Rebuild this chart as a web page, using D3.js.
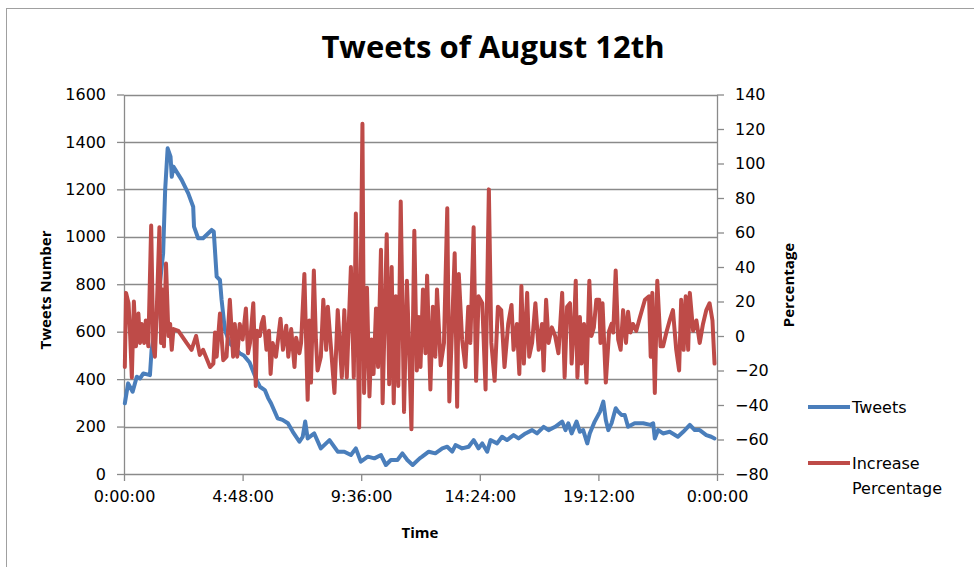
<!DOCTYPE html>
<html>
<head>
<meta charset="utf-8">
<script src="https://cdn.jsdelivr.net/npm/d3@7/dist/d3.min.js"></script>
<style>
  html, body { margin: 0; padding: 0; background: #fff; }
  svg { display: block; }
  text { font-family: "Open Sans", "DejaVu Sans", sans-serif; fill: #000; }
</style>
</head>
<body>
<svg id="chart" width="974" height="567"></svg>
<script>
// Tweets per sample over the day (minutes after midnight) and counts
const tweetMinutes = [2,10,21,31,39,47,63,67,75,87,95,100,106,113,116,120,140,156,168,170,180,192,213,218,225,233,237,245,257,281,291,305,322,330,342,350,357,373,385,398,410,426,434,440,446,462,478,499,519,535,551,563,575,592,608,624,636,648,664,676,688,701,718,724,740,756,773,785,797,805,821,837,849,861,870,882,890,906,918,930,946,958,975,991,1003,1019,1031,1047,1064,1072,1079,1087,1099,1107,1115,1125,1131,1143,1156,1164,1170,1176,1184,1194,1200,1208,1216,1224,1240,1261,1278,1285,1289,1297,1309,1325,1345,1358,1374,1386,1398,1414,1426,1434];
const tweetCounts = [298,382,347,410,403,424,417,523,600,800,930,1200,1373,1338,1253,1296,1240,1183,1127,1043,994,994,1029,1022,832,818,734,607,551,509,500,470,396,368,354,320,298,235,228,214,178,136,157,221,150,171,108,143,94,94,80,108,52,73,66,80,38,59,59,87,59,38,66,73,94,87,108,115,94,122,108,115,143,108,129,94,143,129,157,143,164,150,171,185,171,199,185,199,221,185,214,171,221,178,185,129,171,221,263,305,228,185,214,277,263,249,249,199,214,214,207,214,150,185,171,178,157,178,207,185,185,164,157,150];

// Percentage change between consecutive samples
const pctMinutes = [2,5,11,15,19,24,29,35,39,43,49,53,59,66,71,75,79,86,90,94,97,102,108,112,116,120,132,152,164,175,184,192,209,217,221,225,233,241,249,257,265,269,275,281,288,296,301,306,314,320,323,330,334,339,346,352,356,361,369,380,386,394,399,406,414,418,426,430,438,446,450,454,461,466,470,478,484,491,495,503,511,519,529,535,541,551,558,563,571,579,583,590,596,601,606,612,617,624,628,634,638,644,650,655,660,666,672,680,687,693,698,705,711,716,720,726,732,736,744,750,756,760,769,777,785,790,797,803,809,813,821,829,836,841,849,855,861,870,878,886,892,900,908,916,924,933,941,946,954,960,965,971,979,984,991,999,1007,1015,1019,1025,1031,1039,1047,1055,1064,1070,1076,1083,1087,1093,1097,1101,1107,1111,1117,1123,1130,1135,1141,1147,1154,1157,1162,1170,1178,1184,1188,1194,1200,1206,1212,1219,1224,1230,1236,1244,1253,1265,1275,1279,1283,1289,1295,1303,1309,1317,1325,1333,1341,1348,1353,1359,1364,1370,1374,1382,1390,1398,1406,1414,1422,1429,1434];
const pctValues = [-18,25,19,0,-24,20,-6,13,-4,7,-4,9,-6,64,-6,-12,11,63,-4,27,-6,42,0,7,-8,4,3,-4,-8,0,-11,-8,-18,-16,2,-12,13,-14,-12,21,-12,7,-12,7,-2,16,-10,-4,19,-29,3,0,7,11,-8,3,-22,-4,-12,10,-8,6,-12,4,-18,-1,-10,-4,36,-37,9,-27,38,-2,-20,-12,21,-8,17,-8,-33,15,-24,15,-24,40,-24,71,-53,123,-33,28,-35,-2,-22,16,-18,50,-39,19,59,-28,40,-39,23,-29,78,-44,32,-12,-54,61,-20,11,-18,27,-10,35,-31,17,-12,27,-17,-4,74,-38,7,48,-41,36,-2,-18,17,-4,63,-26,23,19,-31,85,-4,-26,17,15,-18,7,18,-8,7,-22,29,-16,25,-12,-4,19,-8,7,-20,21,-4,5,0,-10,25,-24,17,19,-16,7,32,-24,11,-16,7,-27,32,0,5,21,21,-4,19,-27,3,7,2,38,-2,-8,15,-4,14,2,7,3,11,21,23,-12,25,-33,32,-6,-6,2,9,15,-8,-20,21,-8,23,-8,25,3,9,-4,7,15,19,9,-16];

// Axis tick values and labels
const leftTicks = [0,200,400,600,800,1000,1200,1400,1600];
const rightTicks = [-80,-60,-40,-20,0,20,40,60,80,100,120,140];
const timeTicks = [0,288,576,864,1152,1440];
const timeTickLabels = ["0:00:00","4:48:00","9:36:00","14:24:00","19:12:00","0:00:00"];
const seriesNames = ["Tweets", "Increase Percentage"];

const svg = d3.select("#chart");
const plot = { left: 124, right: 717, top: 94.5, bottom: 474 };
const gridColor = "#8a8a8a";
const blue = "#4a7ebb", red = "#be4b48";
const labelFont = "'DejaVu Sans', sans-serif";

// chart frame
svg.append("rect").attr("x", 6.5).attr("y", 8.5).attr("width", 990).attr("height", 600)
  .attr("fill", "none").attr("stroke", "#a0a0a0").attr("stroke-width", 1);

const x = d3.scaleLinear().domain([0, 1440]).range([plot.left, plot.right]);
const yL = d3.scaleLinear().domain([0, 1600]).range([plot.bottom, plot.top]);
const yR = d3.scaleLinear().domain([-80, 140]).range([plot.bottom, plot.top]);

// horizontal gridlines
svg.append("g").selectAll("line").data(leftTicks.filter(d => d > 0)).join("line")
  .attr("x1", plot.left).attr("x2", plot.right)
  .attr("y1", d => Math.round(yL(d)) + 0.5).attr("y2", d => Math.round(yL(d)) + 0.5)
  .attr("stroke", gridColor).attr("stroke-width", 1.3);

function styleAxis(g) {
  g.selectAll(".domain").attr("stroke", gridColor).attr("stroke-width", 1.3);
  g.selectAll(".tick line").attr("stroke", gridColor).attr("stroke-width", 1.3);
  g.selectAll(".tick text").style("font-family", labelFont).style("font-size", "16px").attr("fill", "#000");
}

svg.append("g").attr("transform", `translate(${plot.left},0)`)
  .call(d3.axisLeft(yL).tickValues(leftTicks).tickFormat(d3.format("d")).tickSize(7).tickSizeOuter(0).tickPadding(11))
  .call(styleAxis);

svg.append("g").attr("transform", `translate(${plot.right},0)`)
  .call(d3.axisRight(yR).tickValues(rightTicks).tickFormat(d3.format("d")).tickSize(7).tickSizeOuter(0).tickPadding(11))
  .call(styleAxis);

svg.append("g").attr("transform", `translate(0,${plot.bottom})`)
  .call(d3.axisBottom(x).tickValues(timeTicks).tickFormat((d, i) => timeTickLabels[i]).tickSize(7).tickSizeOuter(0).tickPadding(10))
  .call(styleAxis);

// series lines
const tweetLine = d3.line().x((d, i) => x(tweetMinutes[i])).y(d => yL(d)).curve(d3.curveLinear);
const pctLine = d3.line().x((d, i) => x(pctMinutes[i])).y(d => yR(d)).curve(d3.curveLinear);

svg.append("path").datum(tweetCounts).attr("d", tweetLine)
  .attr("fill", "none").attr("stroke", blue).attr("stroke-width", 4)
  .attr("stroke-linejoin", "round").attr("stroke-linecap", "round");
svg.append("path").datum(pctValues).attr("d", pctLine)
  .attr("fill", "none").attr("stroke", red).attr("stroke-width", 4)
  .attr("stroke-linejoin", "round").attr("stroke-linecap", "round");

// titles
svg.append("text").attr("x", 493).attr("y", 58).attr("text-anchor", "middle")
  .style("font-size", "31px").style("font-weight", "bold").text("Tweets of August 12th");
svg.append("text").attr("transform", "translate(51,290) rotate(-90)").attr("text-anchor", "middle")
  .style("font-size", "15px").style("font-weight", "bold").text("Tweets Number");
svg.append("text").attr("transform", "translate(794,285) rotate(-90)").attr("text-anchor", "middle")
  .style("font-size", "15px").style("font-weight", "bold").text("Percentage");
svg.append("text").attr("x", 420).attr("y", 538).attr("text-anchor", "middle")
  .style("font-size", "15px").style("font-weight", "bold").text("Time");

// legend
const legend = svg.append("g");
legend.append("line").attr("x1", 808).attr("x2", 850).attr("y1", 407).attr("y2", 407)
  .attr("stroke", blue).attr("stroke-width", 4);
legend.append("text").attr("x", 852).attr("y", 413).style("font-family", labelFont).style("font-size", "16px").text(seriesNames[0]);
legend.append("line").attr("x1", 808).attr("x2", 850).attr("y1", 463).attr("y2", 463)
  .attr("stroke", red).attr("stroke-width", 4);
const lt = legend.append("text").attr("x", 852).attr("y", 469).style("font-family", labelFont).style("font-size", "16px");
lt.append("tspan").attr("x", 852).text("Increase");
lt.append("tspan").attr("x", 852).attr("dy", 25).text("Percentage");
</script>
</body>
</html>
